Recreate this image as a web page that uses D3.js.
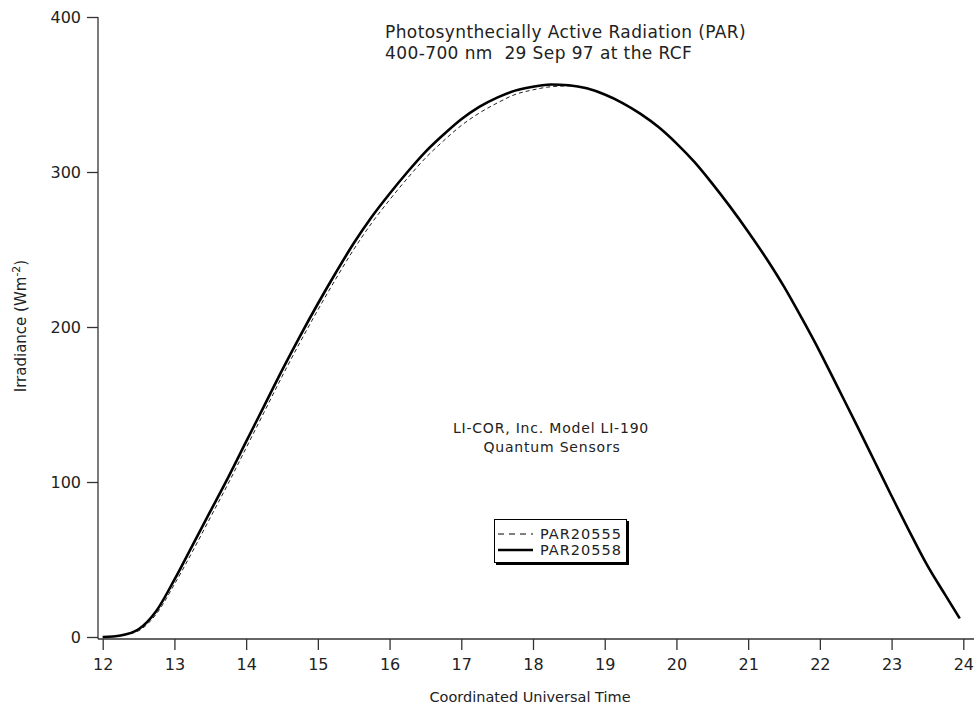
<!DOCTYPE html>
<html>
<head>
<meta charset="utf-8">
<script src="https://cdn.jsdelivr.net/npm/d3@7/dist/d3.min.js"></script>
<style>
  body { margin: 0; background: #fff; }
  text { font-family: "DejaVu Sans", sans-serif; fill: #222; }
</style>
</head>
<body>
<div id="chart"></div>
<script>
var W = 974, H = 710;

// time (UTC hours)
var hours = [12.00, 12.25, 12.50, 12.75, 13.00, 13.25, 13.50, 13.75, 14.00, 14.25,
             14.50, 14.75, 15.00, 15.25, 15.50, 15.75, 16.00, 16.25, 16.50, 16.75,
             17.00, 17.25, 17.50, 17.75, 18.00, 18.25, 18.50, 18.75, 19.00, 19.25,
             19.50, 19.75, 20.00, 20.25, 20.50, 20.75, 21.00, 21.25, 21.50, 21.75,
             22.00, 22.25, 22.50, 22.75, 23.00, 23.25, 23.50, 23.75, 23.95];

// PAR20558 (solid)
var par20558 = [0, 1, 5, 17, 37, 59, 81, 103, 126, 149,
                172, 194, 215, 235, 254, 271, 286, 300, 313, 324,
                334, 342, 348, 352.5, 355, 356.5, 356, 354, 350, 344.5,
                337.5, 329, 318.5, 306.5, 292.5, 277.5, 261.5, 244.5, 226, 205.5,
                184, 161, 138, 114.5, 91, 68, 46, 27, 12];

// PAR20555 (dashed)
var par20555 = [0, 1, 4, 15, 34, 55, 77, 99, 122, 145,
                168, 190, 211, 231, 250, 267, 282, 296, 309, 320,
                330, 338, 344.5, 350, 353, 355, 355.5, 354, 350, 344.5,
                337.5, 329, 318.5, 306.5, 292.5, 277.5, 261.5, 244.5, 226, 205.5,
                184, 161, 138, 114.5, 91, 68, 46, 27, 12];

var xTicks = [12, 13, 14, 15, 16, 17, 18, 19, 20, 21, 22, 23, 24];
var yTicks = [0, 100, 200, 300, 400];

var seriesNames = ["PAR20555", "PAR20558"];

var svg = d3.select("#chart")
    .append("svg")
    .attr("width", W)
    .attr("height", H);

var x = d3.scaleLinear().domain([12, 24]).range([102.7, 963.3]);
var y = d3.scaleLinear().domain([0, 400]).range([637, 17]);

var axisColor = "#333";
var axisX0 = 98, axisY0 = 639;

// AXES
var xAxis = svg.append("g")
    .attr("transform", "translate(0," + axisY0 + ")")
    .call(d3.axisBottom(x).tickValues(xTicks).tickSize(11).tickSizeOuter(0).tickPadding(9));
var yAxis = svg.append("g")
    .attr("transform", "translate(" + axisX0 + ",0)")
    .call(d3.axisLeft(y).tickValues(yTicks).tickSize(11).tickSizeOuter(0).tickPadding(6));

[xAxis, yAxis].forEach(function(a){
    a.select(".domain").remove();
    a.selectAll("line").attr("stroke", axisColor).attr("stroke-width", 1.3);
    a.selectAll("text")
        .style("font-family", "DejaVu Sans, sans-serif")
        .style("font-size", "16px")
        .attr("fill", "#333");
});

svg.append("line")
    .attr("x1", axisX0).attr("x2", W)
    .attr("y1", axisY0).attr("y2", axisY0)
    .attr("stroke", axisColor).attr("stroke-width", 1.3);
svg.append("line")
    .attr("x1", axisX0).attr("x2", axisX0)
    .attr("y1", y(400)).attr("y2", axisY0)
    .attr("stroke", axisColor).attr("stroke-width", 1.3);

// AXIS TITLES
svg.append("text")
    .attr("x", 530).attr("y", 702)
    .attr("text-anchor", "middle")
    .style("font-size", "14.5px")
    .attr("fill", "#333")
    .text("Coordinated Universal Time");

var yl = svg.append("text")
    .attr("transform", "translate(26," + 326 + ") rotate(-90)")
    .attr("text-anchor", "middle")
    .attr("fill", "#333")
    .style("font-size", "15px");
yl.append("tspan").text("Irradiance (Wm");
yl.append("tspan").attr("dy", -6).style("font-size", "11px").text("-2");
yl.append("tspan").attr("dy", 6).text(")");

// LINES
var line = d3.line()
    .x(function(d){ return x(d[0]); })
    .y(function(d){ return y(d[1]); })
    .curve(d3.curveMonotoneX);

svg.append("path")
    .datum(hours.map(function(h, i){ return [h, par20555[i]]; }))
    .attr("d", line)
    .attr("fill", "none")
    .attr("stroke", "#222")
    .attr("stroke-width", 1)
    .attr("stroke-dasharray", "4,3");

svg.append("path")
    .datum(hours.map(function(h, i){ return [h, par20558[i]]; }))
    .attr("d", line)
    .attr("fill", "none")
    .attr("stroke", "#000")
    .attr("stroke-width", 2.6);

// TITLE
svg.append("text").attr("x", 385).attr("y", 38)
    .style("font-size", "17px")
    .style("letter-spacing", "0.4px")
    .text("Photosynthecially Active Radiation (PAR)");
svg.append("text").attr("x", 385).attr("y", 59)
    .style("font-size", "17px")
    .style("letter-spacing", "0.4px")
    .style("white-space", "pre")
    .text("400-700 nm  29 Sep 97 at the RCF");

// ANNOTATION
svg.append("text").attr("x", 551).attr("y", 433)
    .attr("text-anchor", "middle")
    .style("font-size", "14px")
    .style("letter-spacing", "0.8px")
    .text("LI-COR, Inc. Model LI-190");
svg.append("text").attr("x", 552).attr("y", 452)
    .attr("text-anchor", "middle")
    .style("font-size", "14px")
    .style("letter-spacing", "0.8px")
    .text("Quantum Sensors");

// LEGEND
var lg = svg.append("g").attr("transform", "translate(494,519)");
lg.append("rect").attr("x", 2).attr("y", 2).attr("width", 133).attr("height", 44).attr("fill", "#000");
lg.append("rect").attr("x", 0.5).attr("y", 0.5).attr("width", 132).attr("height", 43)
    .attr("fill", "#fff").attr("stroke", "#000").attr("stroke-width", 1);

seriesNames.forEach(function(name, i){
    var yy = 15 + i * 16;
    lg.append("line")
        .attr("x1", 4).attr("x2", 39)
        .attr("y1", yy).attr("y2", yy)
        .attr("stroke", "#000")
        .attr("stroke-width", i === 0 ? 1 : 2.6)
        .attr("stroke-dasharray", i === 0 ? "6,5" : null);
    lg.append("text")
        .attr("x", 46).attr("y", yy + 5)
        .style("font-size", "14.5px")
        .style("letter-spacing", "1px")
        .text(name);
});
</script>
</body>
</html>
